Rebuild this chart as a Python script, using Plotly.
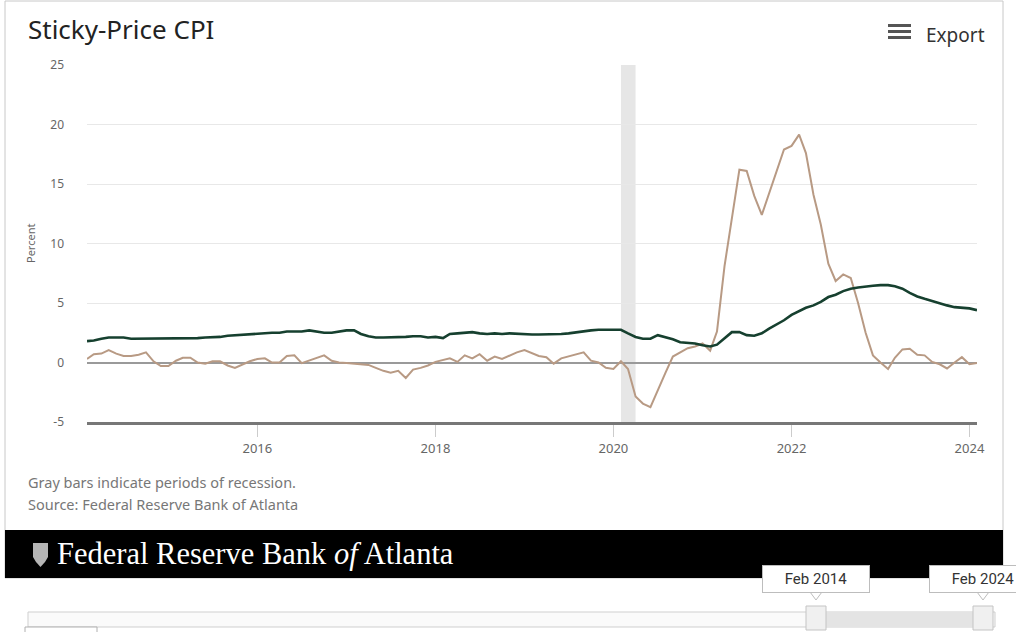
import pandas as pd
import plotly.graph_objects as go

# ---- data -------------------------------------------------------------
months = pd.date_range("2014-02-01", "2024-02-01", freq="MS")

# 12-month percent change, Sticky-Price CPI
sticky_cpi = [
    1.80, 1.85, 2.00, 2.10, 2.10, 2.10, 2.00, 2.00, 2.00, 2.00, 2.00,
    2.00, 2.00, 2.00, 2.05, 2.05, 2.10, 2.10, 2.15, 2.25, 2.30, 2.35, 2.40,
    2.45, 2.50, 2.50, 2.50, 2.60, 2.60, 2.60, 2.70, 2.60, 2.50, 2.50, 2.60,
    2.70, 2.70, 2.40, 2.20, 2.10, 2.10, 2.10, 2.10, 2.15, 2.20, 2.20, 2.10,
    2.15, 2.05, 2.40, 2.45, 2.50, 2.55, 2.45, 2.40, 2.45, 2.40, 2.45, 2.40,
    2.35, 2.35, 2.35, 2.35, 2.35, 2.40, 2.45, 2.55, 2.60, 2.70, 2.75, 2.75,
    2.75, 2.75, 2.45, 2.15, 2.00, 2.00, 2.30, 2.15, 1.95, 1.70, 1.65, 1.60,
    1.45, 1.35, 1.50, 2.00, 2.55, 2.55, 2.30, 2.25, 2.45, 2.85, 3.20, 3.55,
    4.00, 4.30, 4.60, 4.80, 5.10, 5.50, 5.70, 6.00, 6.20, 6.30, 6.40, 6.45,
    6.50, 6.50, 6.40, 6.20, 5.85, 5.55, 5.35, 5.15, 5.00, 4.80, 4.65, 4.60,
    4.55, 4.40,
]

# 12-month percent change, Flexible-Price CPI
flexible_cpi = [
    0.30, 0.70, 0.75, 1.05, 0.75, 0.55, 0.55, 0.65, 0.85, 0.10, -0.30,
    -0.30, 0.15, 0.40, 0.40, 0.00, -0.10, 0.10, 0.10, -0.25, -0.45, -0.15, 0.10,
    0.30, 0.35, 0.00, 0.00, 0.55, 0.60, -0.05, 0.15, 0.35, 0.60, 0.15, 0.00,
    -0.05, -0.10, -0.10, -0.20, -0.45, -0.70, -0.85, -0.70, -1.30, -0.60, -0.45, -0.25,
    0.05, 0.20, 0.35, 0.05, 0.60, 0.35, 0.70, 0.15, 0.50, 0.30, 0.60, 0.85,
    1.05, 0.80, 0.55, 0.45, -0.10, 0.35, 0.50, 0.70, 0.85, 0.15, 0.00, -0.45,
    -0.55, 0.10, -0.55, -2.85, -3.45, -3.75, -2.30, -0.90, 0.50, 0.85, 1.20, 1.35,
    1.60, 1.00, 2.60, 8.10, 12.00, 16.20, 16.10, 14.00, 12.40, 14.20, 16.10, 17.90,
    18.20, 19.15, 17.60, 14.10, 11.60, 8.30, 6.85, 7.40, 7.10, 5.00, 2.50, 0.60,
    0.00, -0.55, 0.40, 1.10, 1.15, 0.65, 0.60, 0.05, -0.15, -0.50, 0.00, 0.45,
    -0.15, -0.05,
]

recession_start = "2020-02-01"
recession_end = "2020-04-01"

year_ticks = ["2016-01-01", "2018-01-01", "2020-01-01", "2022-01-01", "2024-01-01"]
year_labels = ["2016", "2018", "2020", "2022", "2024"]

pct_ticks = [-5, 0, 5, 10, 15, 20, 25]
pct_labels = ["-5", "0", "5", "10", "15", "20", "25"]

# ---- geometry helpers (pixel -> paper) --------------------------------
W, H = 1016, 632
PL, PR, PT, PB = 87, 977, 65, 422


def fx(x):
    return (x - PL) / (PR - PL)


def fy(y):
    return (PB - y) / (PB - PT)


def rect(x0, y0, x1, y1, **kw):
    return dict(type="rect", xref="paper", yref="paper",
                x0=fx(x0), x1=fx(x1), y0=fy(y1), y1=fy(y0), **kw)


def poly(points, **kw):
    d = "M " + " L ".join(f"{fx(x):.5f},{fy(y):.5f}" for x, y in points) + " Z"
    return dict(type="path", xref="paper", yref="paper", path=d, **kw)


SANS = "Noto Sans, Open Sans, sans-serif"
GREEN = "#16402f"
TAN = "#b89a84"

fig = go.Figure()

fig.add_trace(go.Scatter(
    x=months, y=flexible_cpi, mode="lines",
    line=dict(color=TAN, width=2), name="Flexible-Price CPI",
))
fig.add_trace(go.Scatter(
    x=months, y=sticky_cpi, mode="lines",
    line=dict(color=GREEN, width=2.6), name="Sticky-Price CPI",
))

shapes = [
    # card outline
    rect(5, 1, 1003, 578, line=dict(color="#c8c8c8", width=1), fillcolor="rgba(0,0,0,0)", layer="below"),
    # recession band
    dict(type="rect", xref="x", yref="paper", x0=recession_start, x1=recession_end,
         y0=0, y1=1, fillcolor="#e6e6e6", line=dict(width=0), layer="between"),
    # export menu icon
    rect(888, 24, 911, 27, fillcolor="#555", line=dict(width=0)),
    rect(888, 30, 911, 33, fillcolor="#555", line=dict(width=0)),
    rect(888, 36, 911, 39, fillcolor="#555", line=dict(width=0)),
    # black footer band
    rect(5, 530, 1003, 578, fillcolor="#000", line=dict(width=0)),
    # bank emblem
    poly([(33, 543), (48, 543), (48, 557), (45, 562), (40.5, 567), (36, 562), (33, 557)],
         fillcolor="#b5b5b5", line=dict(width=0)),
    # range navigator track
    rect(28, 612, 995, 627, fillcolor="#fafafa", line=dict(color="#cfcfcf", width=1)),
    rect(816, 612, 983, 627, fillcolor="#e4e4e4", line=dict(width=0)),
    rect(806, 606, 826, 630, fillcolor="#f0f0f0", line=dict(color="#c4c4c4", width=1)),
    rect(973, 606, 993, 630, fillcolor="#f0f0f0", line=dict(color="#c4c4c4", width=1)),
    # label pointers
    poly([(810, 592), (822, 592), (816, 600)], fillcolor="white", line=dict(color="#bdbdbd", width=1)),
    poly([(977, 592), (989, 592), (983, 600)], fillcolor="white", line=dict(color="#bdbdbd", width=1)),
    # zoom button edge
    rect(25, 627, 97, 640, fillcolor="white", line=dict(color="#b0b0b0", width=1)),
]

annotations = [
    dict(text="Sticky-Price CPI", x=fx(26), y=fy(29), xanchor="left", yanchor="middle",
         font=dict(family=SANS, size=26, color="#222")),
    dict(text="Export", x=fx(924), y=fy(35), xanchor="left", yanchor="middle",
         font=dict(family=SANS, size=19, color="#333")),
    dict(text="Percent", x=fx(30), y=fy(244), textangle=-90, xanchor="center", yanchor="middle",
         font=dict(family=SANS, size=11, color="#666")),
    dict(text="Gray bars indicate periods of recession.", x=fx(26), y=fy(482),
         xanchor="left", yanchor="middle", font=dict(family=SANS, size=14.5, color="#777")),
    dict(text="Source: Federal Reserve Bank of Atlanta", x=fx(26), y=fy(504),
         xanchor="left", yanchor="middle", font=dict(family=SANS, size=14.5, color="#777")),
    dict(text="Federal Reserve Bank <i>of</i> Atlanta", x=fx(55), y=fy(554),
         xanchor="left", yanchor="middle",
         font=dict(family="Liberation Serif, DejaVu Serif, serif", size=30.5, color="white")),
    dict(text="Feb 2014", x=fx(816), y=fy(579), xanchor="center", yanchor="middle",
         width=100, height=20, bgcolor="white", bordercolor="#bdbdbd", borderwidth=1, borderpad=3,
         font=dict(family="Liberation Sans Narrow, Roboto, sans-serif", size=15, color="#333")),
    dict(text="Feb 2024", x=fx(983), y=fy(579), xanchor="center", yanchor="middle",
         width=100, height=20, bgcolor="white", bordercolor="#bdbdbd", borderwidth=1, borderpad=3,
         font=dict(family="Liberation Sans Narrow, Roboto, sans-serif", size=15, color="#333")),
]
for a in annotations:
    a.update(xref="paper", yref="paper", showarrow=False)

fig.update_layout(
    width=W, height=H,
    margin=dict(l=PL, r=W - PR, t=PT, b=H - PB, pad=0),
    paper_bgcolor="white", plot_bgcolor="white",
    showlegend=False,
    shapes=shapes,
    annotations=annotations,
    xaxis=dict(
        type="date", range=[months[0], months[-1]],
        tickvals=year_ticks, ticktext=year_labels,
        showgrid=False, showline=True, linecolor="#777", linewidth=3,
        ticks="outside", ticklen=12, tickcolor="#cccccc", tickwidth=1,
        tickfont=dict(family=SANS, size=13, color="#666"),
        zeroline=False, fixedrange=True,
    ),
    yaxis=dict(
        range=[-5, 25], tickvals=pct_ticks, ticktext=pct_labels,
        showgrid=True, gridcolor="#e8e8e8", gridwidth=1,
        zeroline=True, zerolinecolor="#9a9a9a", zerolinewidth=2,
        showline=False, ticks="", ticklabelstandoff=22,
        tickfont=dict(family=SANS, size=12, color="#666"),
        fixedrange=True,
    ),
)

fig.write_html("out.html")
